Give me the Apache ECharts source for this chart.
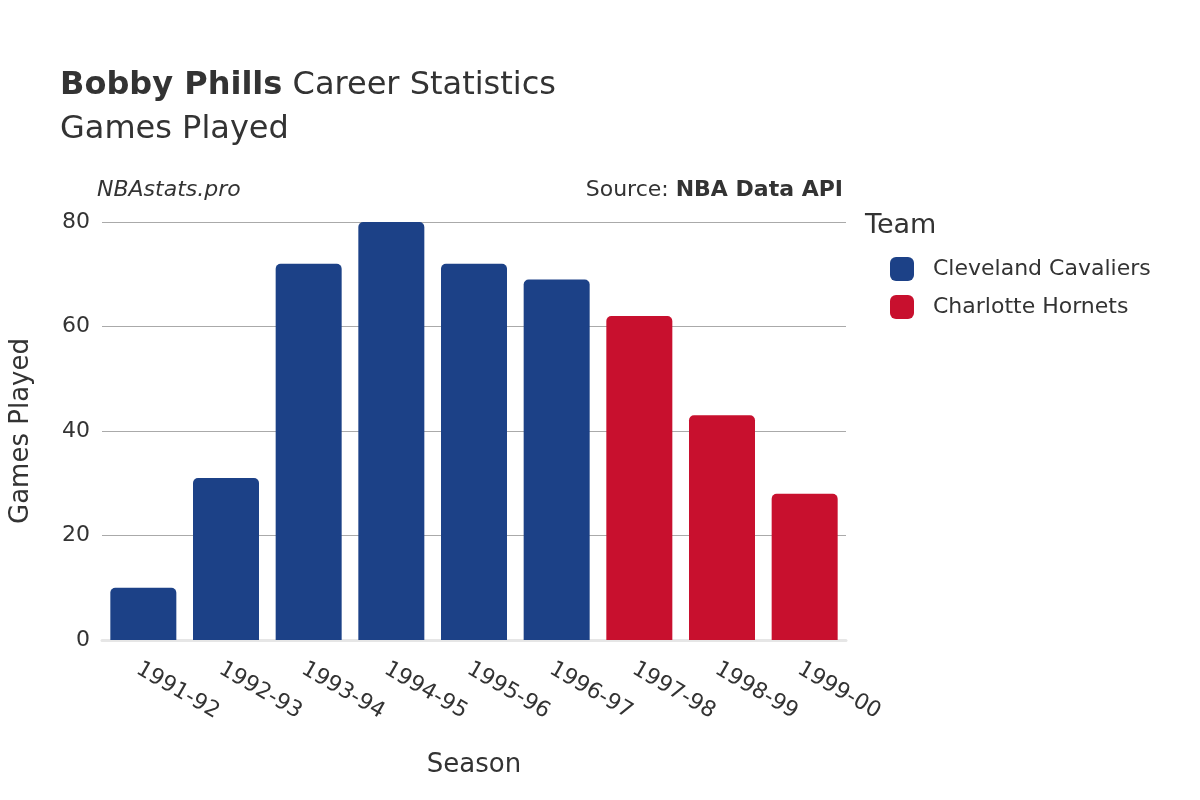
<!DOCTYPE html>
<html><head><meta charset="utf-8">
<script src="https://cdn.jsdelivr.net/npm/echarts@6/dist/echarts.min.js"></script>
<style>html,body{margin:0;padding:0;background:#fff}#c{width:1200px;height:800px}</style>
</head><body><div id="c"></div>
<script>
const seasons = ["1991-92","1992-93","1993-94","1994-95","1995-96","1996-97","1997-98","1998-99","1999-00"];
const cavaliers = [10,31,72,80,72,69,null,null,null];
const hornets = [null,null,null,null,null,null,62,43,28];
const yTicks = [0,20,40,60,80];
const F = "'DejaVu Sans', sans-serif";
const chart = echarts.init(document.getElementById('c'));
chart.setOption({
  animation:false,
  textStyle:{fontFamily:F},
  graphic:[
    {type:'text',left:60,top:70,style:{text:'{b|Bobby Phills} Career Statistics',font:'32px '+F,fill:'#333',rich:{b:{fontWeight:'bold',fontSize:32,fontFamily:F,fill:'#333'}}}},
    {type:'text',left:60,top:114,style:{text:'Games Played',font:'32px '+F,fill:'#333'}},
    {type:'text',left:97,top:179,style:{text:'NBAstats.pro',font:'italic 22px '+F,fill:'#333'}},
    {type:'text',right:357,top:179,style:{text:'Source: {b|NBA Data API}',font:'22px '+F,fill:'#333',rich:{b:{fontWeight:'bold',fontSize:22,fontFamily:F,fill:'#333'}}}},
    {type:'text',left:865,top:212,style:{text:'Team',font:'27px '+F,fill:'#333'}}
  ],
  legend:{orient:'vertical',left:885,top:252,itemWidth:24,itemHeight:24,itemGap:14,icon:'roundRect',
    textStyle:{fontSize:22,color:'#333',fontFamily:F,padding:[0,0,0,14]},
    data:['Cleveland Cavaliers','Charlotte Hornets']},
  grid:{left:92,right:354,top:222,bottom:160},
  xAxis:{type:'category',data:seasons,name:'Season',nameLocation:'middle',nameGap:112,
    nameTextStyle:{fontSize:26,color:'#333'},
    axisLine:{show:true,lineStyle:{color:'#e6e6e6',width:3}},axisTick:{show:false},
    axisLabel:{rotate:-30,fontSize:22,color:'#333',margin:18,align:'left',verticalAlign:'top'}},
  yAxis:{type:'value',min:0,max:80,interval:20,name:'Games Played',nameLocation:'middle',nameGap:68,
    nameTextStyle:{fontSize:26,color:'#333'},
    axisLabel:{fontSize:22,color:'#333',margin:12},
    splitLine:{lineStyle:{color:'#aaa',width:1}},axisLine:{show:false},axisTick:{show:false}},
  series:[
    {name:'Cleveland Cavaliers',type:'bar',stack:'t',data:cavaliers,barWidth:66,
      itemStyle:{color:'#1c4187',borderRadius:[5,5,0,0]}},
    {name:'Charlotte Hornets',type:'bar',stack:'t',data:hornets,barWidth:66,
      itemStyle:{color:'#c8102e',borderRadius:[5,5,0,0]}}
  ]
});
</script></body></html>
